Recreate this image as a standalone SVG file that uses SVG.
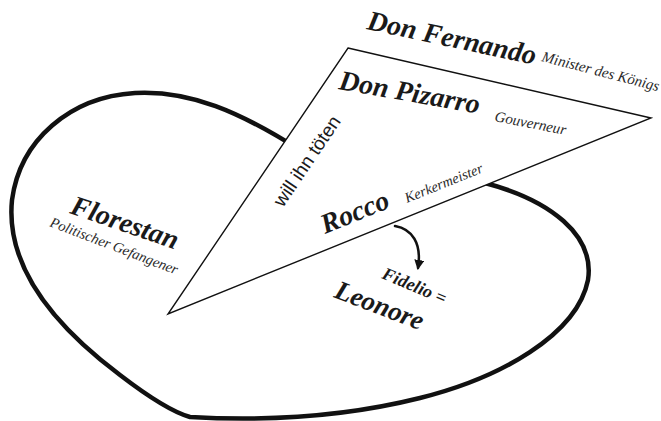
<svg xmlns="http://www.w3.org/2000/svg" width="661" height="421" viewBox="0 0 661 421">
<defs>
<style>
.bi{font-family:"Liberation Serif","Times New Roman",serif;font-weight:bold;font-style:italic;fill:#1a1a1a}
.it{font-family:"Liberation Serif","Times New Roman",serif;font-style:italic;fill:#2a2a2a}
.sans{font-family:"Liberation Sans",Arial,sans-serif;fill:#1a1a1a}
.heart{fill:none;stroke:#111;stroke-width:4.5;stroke-linecap:round;stroke-linejoin:round}
.tri{fill:#fff;stroke:#111;stroke-width:1.4;stroke-linejoin:miter}
.arr{fill:none;stroke:#111;stroke-width:2.5;stroke-linecap:round}
</style>
<marker id="ah" viewBox="0 0 10 10" refX="8" refY="5" markerWidth="4" markerHeight="4" orient="auto" markerUnits="strokeWidth">
<path d="M0,0 L10,5 L0,10 z" fill="#111"/>
</marker>
</defs>
<rect width="661" height="421" fill="#fff"/>
<g id="heart">
<path class="heart" d="M 300,150 C 240,112 190,90 135,93 C 70,97 20,140 12,200 C 5,270 60,330 120,375 C 150,398 172,412 190,417 C 260,421 340,418 420,398 C 500,378 577,335 588,280 C 595,235 550,200 485,183 C 470,178 460,176 450,176"/>
</g>
<g id="triangle">
<path class="tri" d="M 348,48 L 651,118 L 168,314 Z"/>
</g>
<g id="connectors">
<path class="arr" d="M 395,226 C 412,229 422,243 418,268" marker-end="url(#ah)"/>
</g>
<g id="fernando">
<text class="bi" font-size="28" transform="translate(366,29) rotate(12)">Don Fernando</text>
<text class="it" font-size="15" transform="translate(541,61) rotate(14.5)">Minister des Königs</text>
</g>
<g id="pizarro">
<text class="bi" font-size="28" transform="translate(338,89) rotate(10)">Don Pizarro</text>
<text class="it" font-size="15" transform="translate(494,121) rotate(11)">Gouverneur</text>
</g>
<g id="will">
<text class="sans" font-size="19" transform="translate(283,208) rotate(-56)">will ihn töten</text>
</g>
<g id="rocco">
<text class="bi" font-size="28" transform="translate(325,234) rotate(-22)">Rocco</text>
<text class="it" font-size="14.5" transform="translate(407,203) rotate(-22)">Kerkermeister</text>
</g>
<g id="florestan">
<text class="bi" font-size="28" transform="translate(69,213) rotate(19)">Florestan</text>
<text class="it" font-size="14.5" transform="translate(49,226) rotate(21)">Politischer Gefangener</text>
</g>
<g id="leonore">
<text class="bi" font-size="18" transform="translate(381,278) rotate(23)">Fidelio =</text>
<text class="bi" font-size="27" transform="translate(333,297) rotate(21)">Leonore</text>
</g>
</svg>
